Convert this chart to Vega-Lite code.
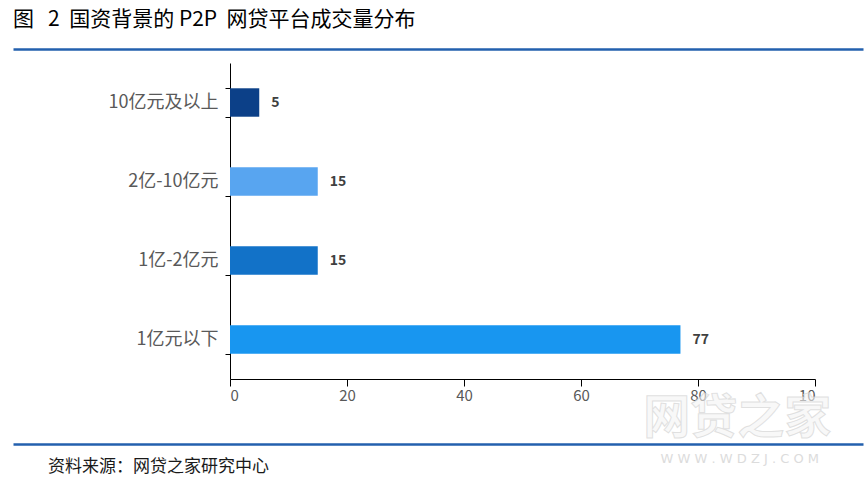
{
  "$schema": "https://vega.github.io/schema/vega-lite/v6.json",
  "autosize": {"type": "pad"},
  "padding": {"left": 10, "top": 9, "right": 5, "bottom": 5},
  "background": "white",
  "bounds": "full",
  "spacing": 0,
  "config": {
    "view": {"stroke": null},
    "font": "Noto Sans CJK SC"
  },
  "vconcat": [
    {
      "width": 850,
      "height": 4,
      "data": {"values": [{"v": 0}, {"v": 1}]},
      "title": {
        "text": "图\u00a0\u00a0\u00a02\u00a0\u00a0国资背景的 P2P\u00a0\u00a0网贷平台成交量分布",
        "anchor": "start",
        "frame": "group",
        "orient": "top",
        "offset": 18,
        "fontSize": 21,
        "fontWeight": "normal",
        "color": "#000000",
        "font": "Noto Sans CJK SC"
      },
      "mark": {"type": "point", "opacity": 0},
      "encoding": {
        "x": {
          "field": "v",
          "type": "quantitative",
          "scale": {"nice": false, "zero": false},
          "axis": {"orient": "top", "domainColor": "#2360AE", "domainWidth": 2.5, "ticks": false, "labels": false, "grid": false, "title": null}
        }
      }
    },
    {
      "bounds": "flush",
      "spacing": 0,
      "hconcat": [
        {
          "width": 217,
          "height": 316,
          "data": {"values": []},
          "mark": "text",
          "encoding": {}
        },
        {
          "width": 585,
          "height": 316,
          "encoding": {
            "y": {
              "field": "category",
              "type": "nominal",
              "sort": null,
              "scale": {"paddingInner": 0.64, "paddingOuter": 0.32},
              "axis": {
                "title": null,
                "tickBand": "extent",
                "tickSize": 5,
                "tickColor": "#000000",
                "domainColor": "#000000",
                "labelColor": "#595959",
                "labelFontSize": 18,
                "labelPadding": 7,
                "labelFont": "Noto Sans CJK SC",
                "grid": false
              }
            },
            "x": {
              "field": "value",
              "type": "quantitative",
              "scale": {"domain": [0, 100], "nice": false},
              "axis": {
                "title": null,
                "values": [0, 20, 40, 60, 80, 100],
                "tickSize": 7,
                "tickColor": "#000000",
                "domainColor": "#000000",
                "labelColor": "#595959",
                "labelFontSize": 15,
                "labelPadding": 2,
                "labelFont": "Noto Sans CJK SC",
                "labelExpr": "datum.value == 100 ? '10' : datum.label",
                "grid": false
              }
            }
          },
          "layer": [
            {
              "data": {
                "values": [
                  {"category": "10亿元及以上", "value": 5},
                  {"category": "2亿-10亿元", "value": 15},
                  {"category": "1亿-2亿元", "value": 15},
                  {"category": "1亿元以下", "value": 77}
                ]
              },
              "layer": [
                {
                  "mark": {"type": "bar"},
                  "encoding": {
                    "color": {
                      "field": "category",
                      "type": "nominal",
                      "scale": {
                        "domain": ["10亿元及以上", "2亿-10亿元", "1亿-2亿元", "1亿元以下"],
                        "range": ["#0C4088", "#58A5F0", "#1272C8", "#1896F0"]
                      },
                      "legend": null
                    }
                  }
                },
                {
                  "mark": {"type": "text", "align": "left", "dx": 12, "fontSize": 14, "fontWeight": "bold", "color": "#404040", "font": "Noto Sans CJK SC"},
                  "encoding": {"text": {"field": "value", "type": "quantitative"}}
                }
              ]
            },
            {
              "data": {"values": [{"category": "1亿元以下", "value": 86.7, "wm": "网贷之家"}]},
              "mark": {"type": "text", "fontSize": 47, "fontWeight": "bold", "fill": "#f4f4f4", "fillOpacity": 0.6, "stroke": "#d4d4d4", "strokeWidth": 1, "strokeOpacity": 0.7, "dy": 79, "clip": false, "font": "Noto Sans CJK SC"},
              "encoding": {"text": {"field": "wm", "type": "nominal"}}
            }
          ]
        }
      ]
    },
    {
      "width": 850,
      "height": 2,
      "title": {
        "text": "资料来源：网贷之家研究中心",
        "anchor": "start",
        "frame": "group",
        "orient": "bottom",
        "offset": -7,
        "dx": 35,
        "fontSize": 17,
        "fontWeight": "normal",
        "color": "#1a1a1a",
        "font": "Noto Sans CJK SC"
      },
      "data": {"values": [{"v": 0.855, "sub": "W W W . W D Z J . C O M"}]},
      "encoding": {
        "x": {
          "field": "v",
          "type": "quantitative",
          "scale": {"nice": false, "zero": false, "domain": [0, 1]},
          "axis": {"orient": "bottom", "domainColor": "#2360AE", "domainWidth": 2.5, "ticks": false, "labels": false, "grid": false, "title": null}
        },
        "text": {"field": "sub", "type": "nominal"}
      },
      "mark": {"type": "text", "fontSize": 13, "fill": "#dcdcdc", "dy": 16, "font": "DejaVu Sans"}
    }
  ]
}
